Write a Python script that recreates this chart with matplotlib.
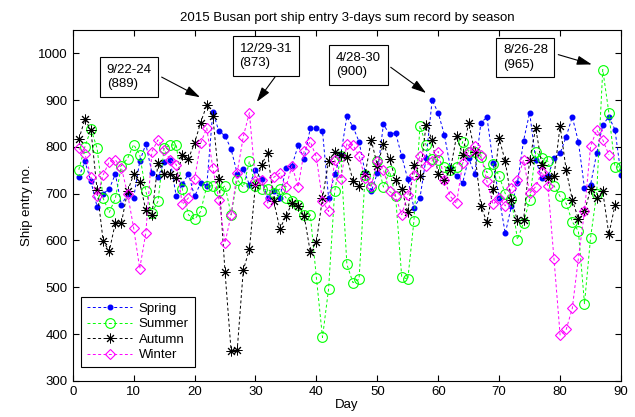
import matplotlib
matplotlib.use("Agg")
import matplotlib.pyplot as plt

plt.rcParams["font.family"] = ["Liberation Sans", "DejaVu Sans"]
plt.rcParams["font.size"] = 9.5

# 3-day sums, one value per starting day of the season
spring = [735, 769, 726, 672, 700, 710, 742, 675, 700, 691,
          769, 806, 745, 735, 767, 771, 694, 720, 743, 694,
          723, 717, 875, 833, 824, 795, 743, 753, 719, 750,
          731, 691, 705, 691, 755, 760, 803, 775, 840, 840,
          833, 691, 741, 783, 865, 843, 811, 745, 705, 744,
          848, 827, 830, 780, 731, 670, 691, 776, 900, 872,
          826, 755, 737, 723, 776, 741, 852, 863, 765, 691,
          615, 673, 723, 813, 873, 772, 733, 737, 776, 786,
          822, 864, 811, 712, 719, 786, 847, 864, 837, 740]
summer = [751, 800, 838, 797, 690, 660, 690, 760, 775, 805,
          783, 705, 659, 684, 797, 804, 804, 709, 655, 645,
          662, 716, 717, 705, 717, 655, 730, 714, 769, 716,
          709, 709, 702, 710, 691, 684, 675, 655, 655, 520,
          393, 497, 705, 780, 549, 510, 517, 740, 715, 769,
          714, 748, 694, 523, 517, 641, 845, 804, 774, 772,
          758, 751, 758, 811, 790, 790, 778, 745, 764, 737,
          700, 689, 602, 638, 687, 790, 776, 769, 717, 694,
          679, 640, 620, 465, 606, 700, 965, 873, 757, 757]
autumn = [816, 859, 835, 708, 599, 577, 638, 638, 705, 741,
          724, 665, 655, 765, 742, 742, 733, 782, 775, 808,
          852, 889, 865, 731, 533, 364, 366, 537, 581, 719,
          762, 787, 684, 625, 652, 680, 673, 652, 575, 597,
          691, 769, 790, 783, 778, 728, 716, 741, 815, 760,
          806, 774, 730, 710, 660, 762, 737, 847, 815, 741,
          730, 751, 823, 783, 852, 788, 673, 639, 710, 818,
          769, 686, 643, 643, 772, 840, 762, 733, 737, 845,
          750, 687, 646, 662, 709, 691, 705, 613, 675]
winter = [797, 785, 735, 694, 740, 768, 772, 755, 700, 627,
          540, 616, 790, 815, 794, 772, 762, 677, 691, 731,
          808, 840, 755, 687, 595, 655, 745, 822, 873, 726,
          730, 680, 735, 744, 714, 760, 714, 792, 811, 778,
          684, 662, 772, 731, 806, 804, 780, 733, 716, 769,
          751, 705, 694, 655, 698, 740, 780, 760, 770, 790,
          730, 694, 679, 765, 790, 801, 783, 726, 677, 691,
          674, 712, 730, 772, 701, 715, 747, 717, 560, 398,
          410, 455, 562, 662, 801, 836, 815, 783]

series = [
    ("Spring", spring, "#0000ff", "o", dict(markersize=3.3, markerfacecolor="#0000ff")),
    ("Summer", summer, "#00ff00", "o", dict(markersize=7, markerfacecolor="none", markeredgewidth=0.8)),
    ("Autumn", autumn, "#000000", (8, 2, 0), dict(markersize=7, markeredgewidth=0.7)),
    ("Winter", winter, "#ff00ff", "D", dict(markersize=5.5, markerfacecolor="none", markeredgewidth=0.8)),
]

# annotations: label text, text position, arrow start, arrow tip
notes = [
    ("9/22-24\n(889)", (9.3, 949), (14.6, 949), (20.9, 906)),
    ("12/29-31\n(873)", (31.7, 994), (33.2, 949), (30.2, 896)),
    ("4/28-30\n(900)", (46.9, 975), (52.2, 970), (58.0, 915)),
    ("8/26-28\n(965)", (74.3, 991), (79.7, 997), (85.2, 976)),
]

fig = plt.figure(figsize=(6.35, 4.17), dpi=100)
ax = fig.add_axes([0.1145, 0.0865, 0.8635, 0.842])

for name, vals, col, mk, kw in series:
    days = list(range(1, len(vals) + 1))
    ax.plot(days, vals, linestyle=(0, (3, 2.5)), linewidth=0.7, color=col,
            marker=mk, markeredgecolor=col, label=name, **kw)

for txt, tpos, start, tip in notes:
    ax.text(tpos[0], tpos[1], txt, ha="center", va="center", fontsize=9.5,
            multialignment="left", linespacing=1.25,
            bbox=dict(boxstyle="square,pad=0.5", fc="white", ec="black", lw=0.8))
    ax.annotate("", xy=tip, xytext=start,
                arrowprops=dict(arrowstyle="-|>,head_length=0.9,head_width=0.28",
                                color="black", lw=0.8, mutation_scale=10,
                                shrinkA=0, shrinkB=0))

ax.set_xlim(0, 90)
ax.set_ylim(300, 1050)
ax.set_xticks(range(0, 91, 10))
ax.set_yticks(range(300, 1001, 100))
ax.tick_params(direction="in", top=True, right=True, length=4, width=0.8)
for s in ax.spines.values():
    s.set_linewidth(0.8)

ax.set_title("2015 Busan port ship entry 3-days sum record by season", fontsize=9.5, pad=6)
ax.set_xlabel("Day", labelpad=1)
ax.set_ylabel("Ship entry no.", labelpad=4)

leg = ax.legend(loc="lower left", bbox_to_anchor=(0.004, 0.02), fancybox=False,
                edgecolor="black", framealpha=1, handlelength=3.4, handletextpad=0.5,
                borderpad=0.45, labelspacing=0.25)
leg.get_frame().set_linewidth(0.8)

fig.savefig("out.png", dpi=100)
